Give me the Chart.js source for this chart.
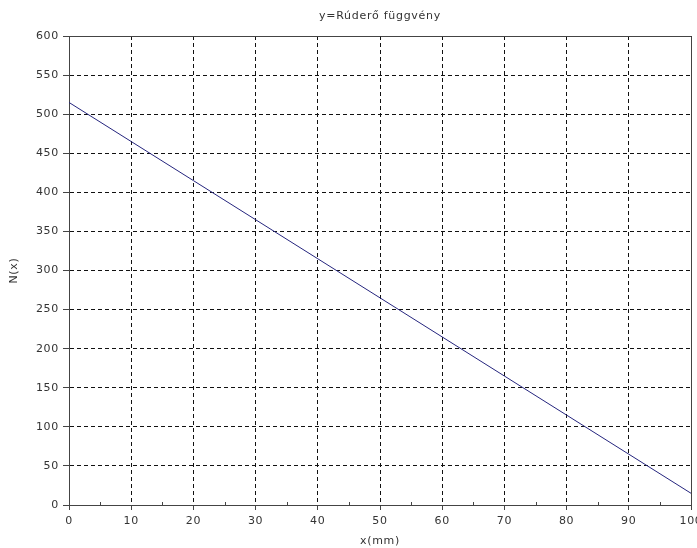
<!DOCTYPE html>
<html>
<head>
<meta charset="utf-8">
<title>y=Rúderő függvény</title>
<script src="https://cdn.jsdelivr.net/npm/chart.js@4.4.1/dist/chart.umd.min.js"></script>
<style>
    html, body { margin: 0; padding: 0; background: #fff; overflow: hidden; }
    #wrap { width: 710px; height: 548px; }
</style>
</head>
<body>
<div id="wrap"><canvas id="chart" width="710" height="548"></canvas></div>
<script>
// Values
const xValues = [0, 10, 20, 30, 40, 50, 60, 70, 80, 90, 100];
const nValues = [515, 465, 415, 365, 315, 265, 215, 165, 115, 65, 15];
const chartTitle = 'y=Rúderő függvény';
const xTitle = 'x(mm)';
const yTitle = 'N(x)';

const FONT = "'DejaVu Sans', Verdana, sans-serif";
const FONT_SIZE = 11;
const LETTER_SPACING = '0.7px';
const AXIS_COLOR = '#444';
const TEXT_COLOR = '#333';

// The reference uses a wide, loosely spaced font: spread the letters a little
const spacingPlugin = {
    id: 'spacing',
    beforeLayout(chart) { chart.ctx.letterSpacing = LETTER_SPACING; },
    beforeDraw(chart) { chart.ctx.letterSpacing = LETTER_SPACING; }
};

// Title centred over the plot area, plus the solid frame and minor x ticks
const framePlugin = {
    id: 'frame',
    afterDraw(chart) {
        const { ctx, chartArea: a, scales } = chart;
        ctx.save();
        ctx.strokeStyle = AXIS_COLOR;
        ctx.lineWidth = 1;
        ctx.beginPath();
        ctx.moveTo(Math.round(a.left) + 0.5, Math.round(a.top) + 0.5);
        ctx.lineTo(Math.round(a.right) + 0.5, Math.round(a.top) + 0.5);
        ctx.lineTo(Math.round(a.right) + 0.5, Math.round(a.bottom) + 0.5);
        ctx.stroke();

        // minor ticks halfway between the major x ticks, pointing inward
        const ticks = scales.x.ticks;
        ctx.beginPath();
        for (let i = 0; i < ticks.length - 1; i++) {
            const mid = (ticks[i].value + ticks[i + 1].value) / 2;
            const px = Math.round(scales.x.getPixelForValue(mid)) + 0.5;
            ctx.moveTo(px, a.bottom);
            ctx.lineTo(px, a.bottom - 3);
        }
        ctx.stroke();

        ctx.fillStyle = TEXT_COLOR;
        ctx.font = FONT_SIZE + 'px ' + FONT;
        ctx.textAlign = 'center';
        ctx.textBaseline = 'middle';
        ctx.fillText(chartTitle, (a.left + a.right) / 2, 16);
        ctx.restore();
    }
};

new Chart(document.getElementById('chart'), {
    type: 'line',
    data: {
        labels: xValues,
        datasets: [{
            label: yTitle,
            data: xValues.map((x, i) => ({ x: x, y: nValues[i] })),
            borderColor: '#25257e',
            borderWidth: 1,
            pointRadius: 0,
            tension: 0,
            fill: false
        }]
    },
    options: {
        responsive: false,
        animation: false,
        layout: { padding: { left: 0, right: 19, top: 36, bottom: 0 } },
        plugins: {
            legend: { display: false },
            tooltip: { enabled: false },
            title: { display: false }
        },
        scales: {
            x: {
                type: 'linear',
                min: 0,
                max: 100,
                afterFit: (scale) => { scale.height = 43; },
                ticks: {
                    stepSize: 10,
                    color: TEXT_COLOR,
                    padding: 5,
                    maxRotation: 0,
                    font: { family: FONT, size: FONT_SIZE }
                },
                grid: {
                    color: '#111',
                    lineWidth: 1,
                    tickLength: 5,
                    tickColor: AXIS_COLOR,
                    tickBorderDash: []
                },
                border: { display: true, color: AXIS_COLOR, width: 1, dash: [4, 3] },
                title: {
                    display: true,
                    text: xTitle,
                    color: TEXT_COLOR,
                    padding: { top: 0, bottom: 0 },
                    font: { family: FONT, size: FONT_SIZE }
                }
            },
            y: {
                min: 0,
                max: 600,
                afterFit: (scale) => { scale.width = 69; },
                ticks: {
                    stepSize: 50,
                    color: TEXT_COLOR,
                    padding: 4,
                    font: { family: FONT, size: FONT_SIZE }
                },
                grid: {
                    color: '#111',
                    lineWidth: 1,
                    tickLength: 6,
                    tickColor: AXIS_COLOR,
                    tickBorderDash: []
                },
                border: { display: true, color: AXIS_COLOR, width: 1, dash: [4, 3] },
                title: {
                    display: true,
                    text: yTitle,
                    color: TEXT_COLOR,
                    padding: { top: 8, bottom: 0 },
                    font: { family: FONT, size: FONT_SIZE }
                }
            }
        }
    },
    plugins: [spacingPlugin, framePlugin]
});
</script>
</body>
</html>
